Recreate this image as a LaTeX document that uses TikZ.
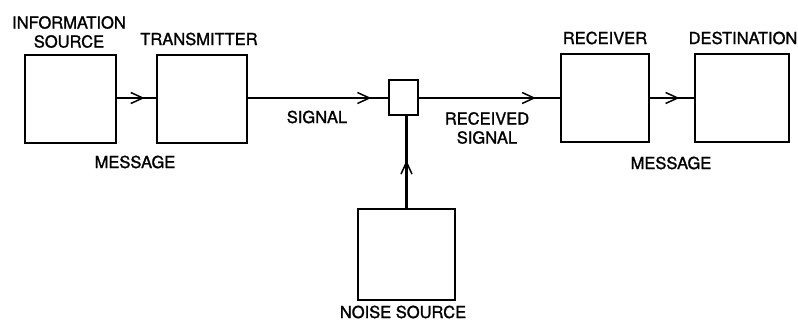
\documentclass[tikz,border=0pt]{standalone}
\usepackage{fontspec}
\setmainfont{TeX Gyre Heros}
\newfontfamily\lblfont[FakeBold=1.3]{TeX Gyre Heros}
\usetikzlibrary{arrows.meta,decorations.markings}
\tikzset{
  blk/.style={draw, line width=2.4pt, inner sep=0pt},
  lbl/.style={font=\lblfont\fontsize{16.5}{18}\selectfont, inner sep=0pt, align=center},
  wire/.style={line width=2.2pt},
  midarrow/.style={postaction={decorate}, decoration={markings,
     mark=at position #1 with {\arrow{Straight Barb[length=12pt,width=11pt,line width=1.5pt]}}}}
}
\begin{document}
\begin{tikzpicture}[x=1pt,y=-1pt]
\useasboundingbox (0,0) rectangle (798,323);
\node[blk, minimum width=91pt, minimum height=88pt] (src) at (70.5,99) {};
\node[blk, minimum width=90pt, minimum height=88pt] (tx) at (202,99) {};
\node[blk, line width=2pt, minimum width=29pt, minimum height=35pt] (mix) at (403.5,98) {};
\node[blk, minimum width=88pt, minimum height=88pt] (rx) at (605,98) {};
\node[blk, minimum width=94pt, minimum height=88pt] (dst) at (742,98) {};
\node[blk, minimum width=97pt, minimum height=91pt] (noise) at (406.5,254.5) {};

\draw[wire, midarrow=0.71] (src.east |- 0,98) -- (tx.west |- 0,98);
\draw[wire, midarrow=0.88] (tx.east |- 0,98) -- (mix.west);
\draw[wire, midarrow=0.83] (mix.east) -- (rx.west |- 0,98);
\draw[wire, midarrow=0.67] (rx.east) -- (dst.west);
\coordinate (nz) at (mix.south -| noise.north);
\draw[wire, midarrow=0.52] (noise.north) -- (nz);

\node[lbl] (lsrc) at (69,32) {INFORMATION\\[1pt]SOURCE};
\node[lbl] (ltx) at (199,39) {TRANSMITTER};
\node[lbl] (lsig) at (317,117) {SIGNAL};
\node[lbl] (lmsg1) at (135,162) {MESSAGE};
\node[lbl] (lrs) at (487,128) {RECEIVED\\[1pt]SIGNAL};
\node[lbl] (lrx) at (605,38) {RECEIVER};
\node[lbl] (ldst) at (743,38) {DESTINATION};
\node[lbl] (lmsg2) at (671,163) {MESSAGE};
\node[lbl] (lnoise) at (403,312) {NOISE SOURCE};
\end{tikzpicture}
\end{document}
